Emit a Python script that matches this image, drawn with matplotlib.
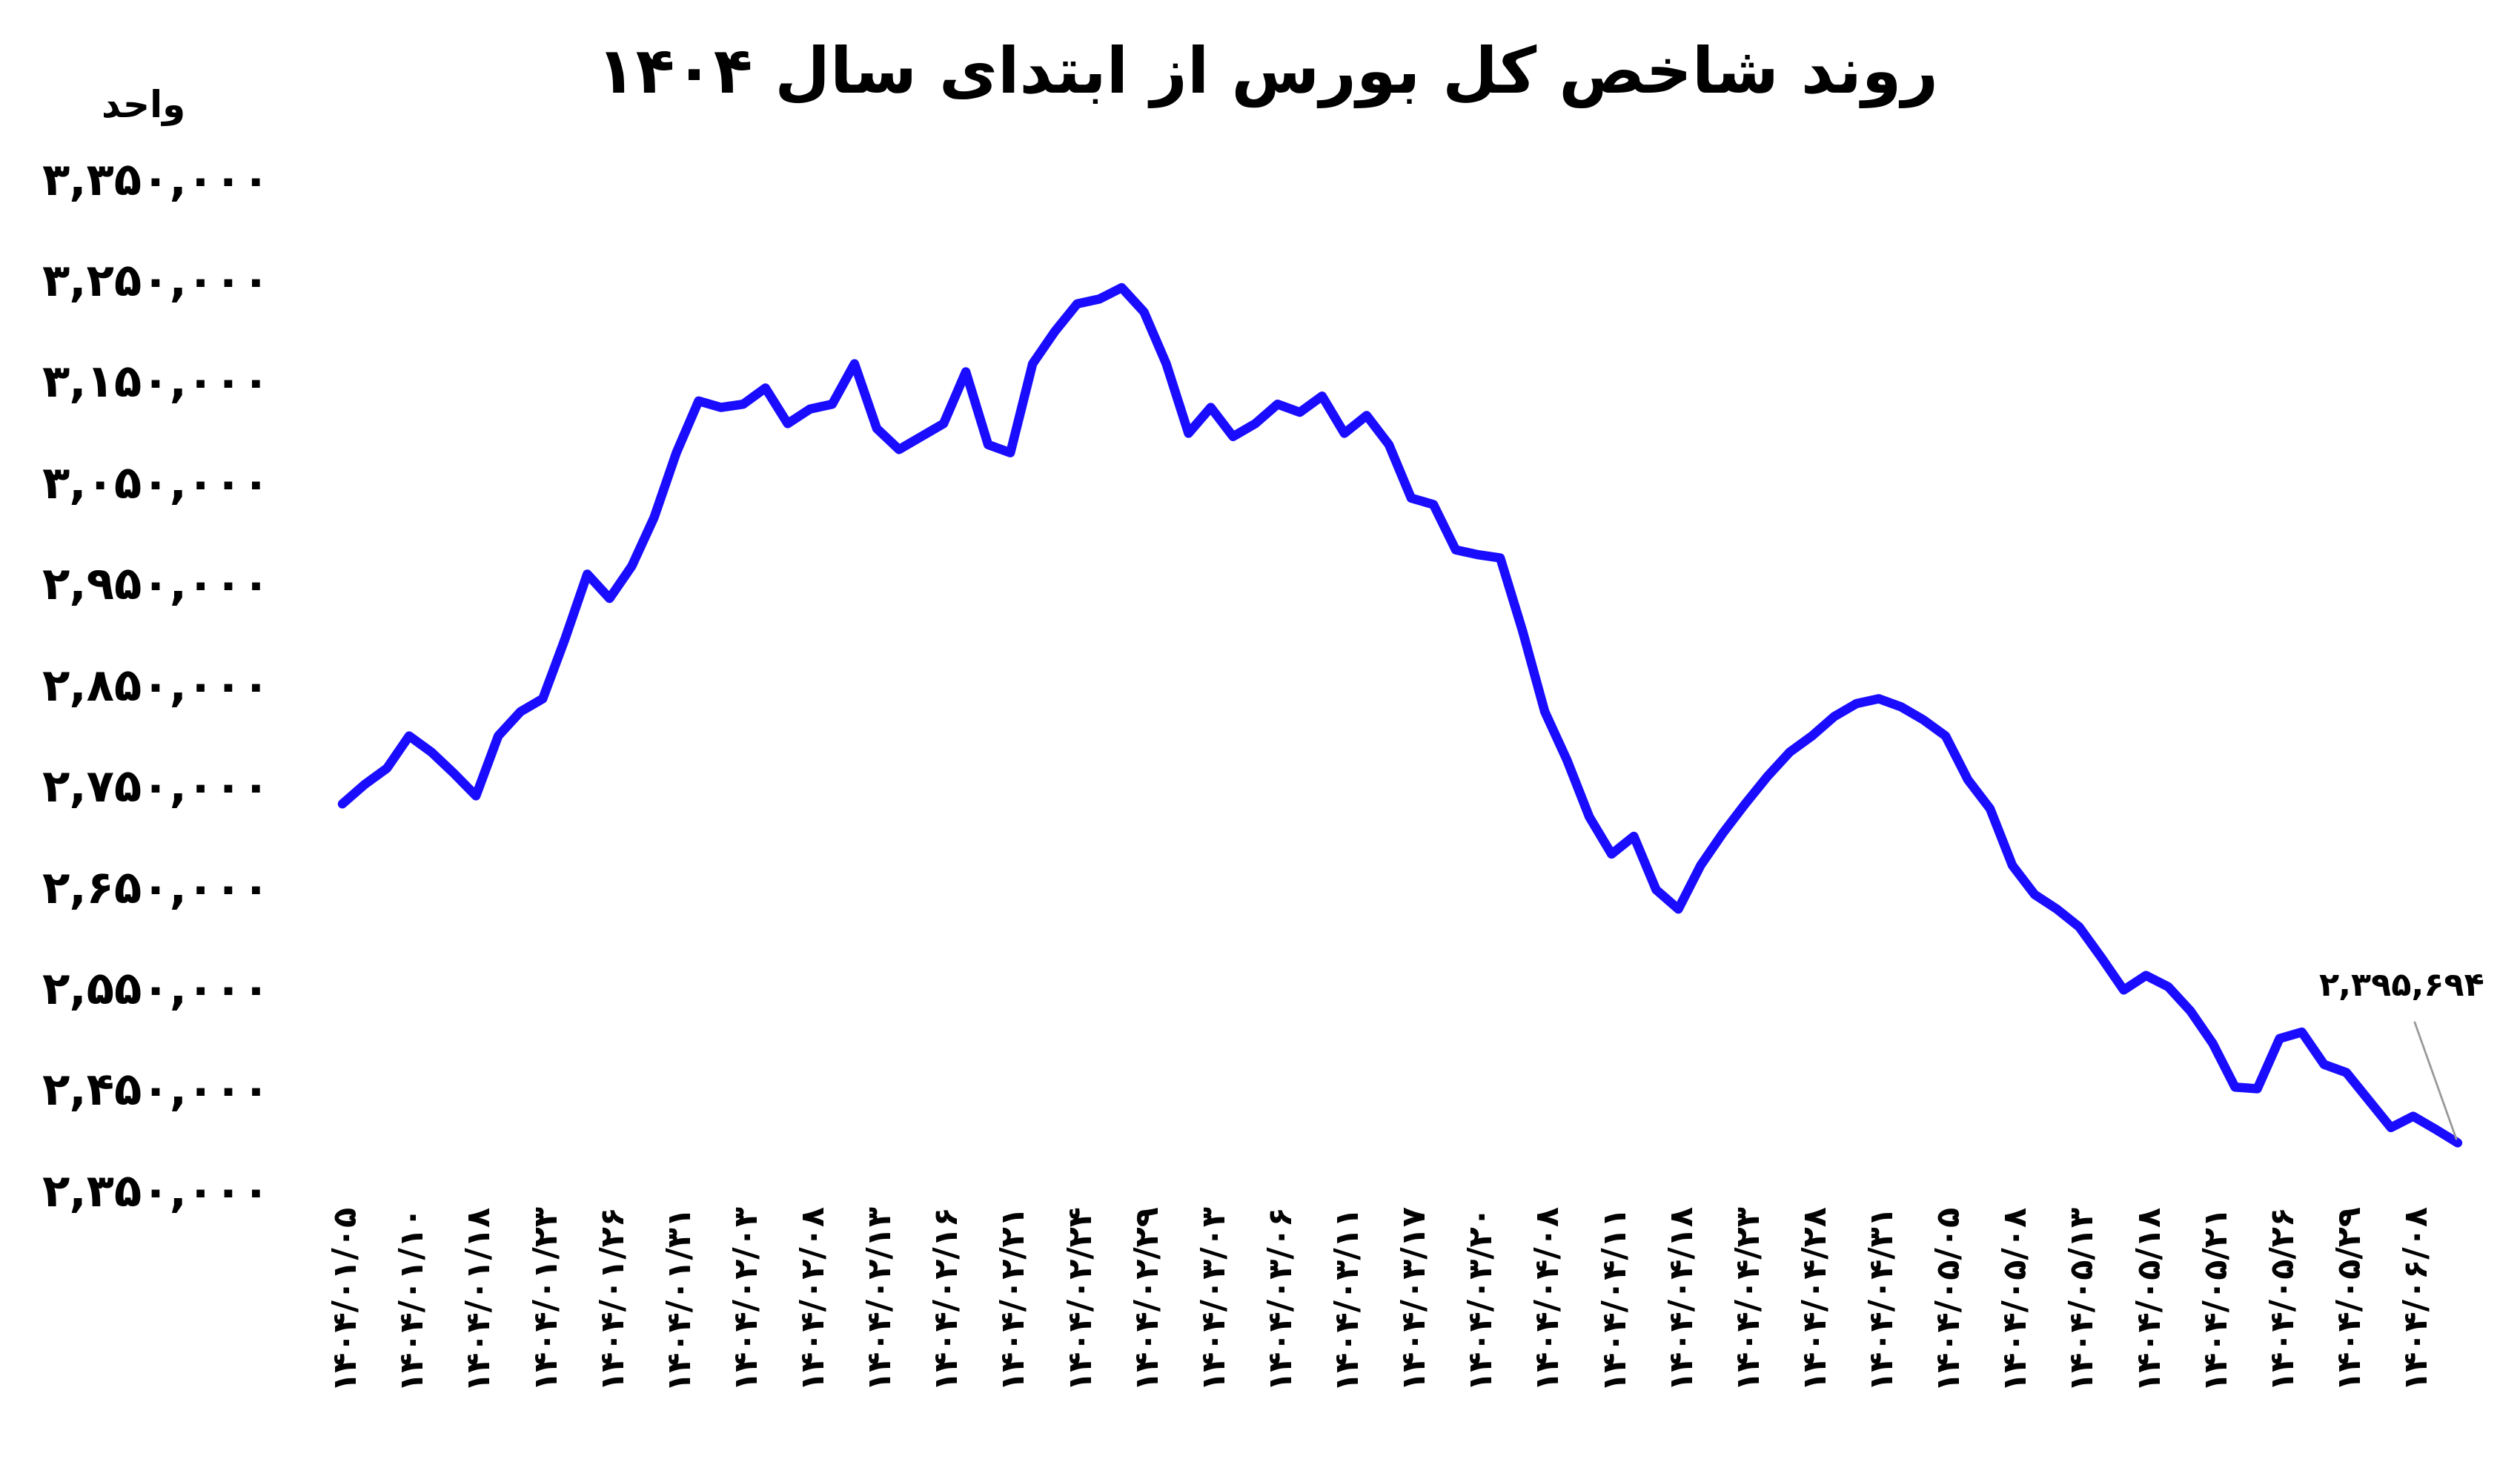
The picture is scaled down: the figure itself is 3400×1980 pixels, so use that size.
import matplotlib
matplotlib.use("Agg")
import matplotlib.pyplot as plt

values = [2730800, 2750000, 2766000, 2798000, 2782000, 2761200, 2738800, 2798000, 2822000, 2834800,
          2894000, 2958000, 2934000, 2966000, 3014000, 3078000, 3129200, 3122800, 3126000, 3142000,
          3106800, 3121200, 3126000, 3166000, 3102000, 3081200, 3094000, 3106800, 3158000, 3086000,
          3078000, 3166000, 3198000, 3225200, 3230000, 3241200, 3217200, 3166000, 3097200, 3122800,
          3094000, 3106800, 3126000, 3118000, 3134000, 3097200, 3114800, 3086000, 3033200, 3026800,
          2982000, 2977200, 2974000, 2902000, 2822000, 2774000, 2718000, 2681200, 2698800, 2646000,
          2626800, 2670000, 2702000, 2730800, 2758000, 2782000, 2798000, 2817200, 2830000, 2834800,
          2826800, 2814000, 2798000, 2754800, 2726000, 2670000, 2641200, 2626800, 2609200, 2578800,
          2546800, 2561200, 2550000, 2526000, 2494000, 2450800, 2449200, 2498800, 2505200, 2473200,
          2465200, 2438000, 2410800, 2422000, 2409200, 2395694]
date_labels = ["1404/01/05", "1404/01/10", "1404/01/18", "1404/01/23", "1404/01/26", "1404/01/31",
               "1404/02/03", "1404/02/08", "1404/02/13", "1404/02/16", "1404/02/21", "1404/02/24",
               "1404/02/29", "1404/03/03", "1404/03/06", "1404/03/11", "1404/03/17", "1404/03/20",
               "1404/04/08", "1404/04/11", "1404/04/18", "1404/04/23", "1404/04/28", "1404/04/31",
               "1404/05/05", "1404/05/08", "1404/05/13", "1404/05/18", "1404/05/21", "1404/05/26",
               "1404/05/29", "1404/06/08"]
y_ticks = [2350000, 2450000, 2550000, 2650000, 2750000, 2850000, 2950000, 3050000, 3150000, 3250000, 3350000]
title = "روند شاخص کل بورس از ابتدای سال ۱۴۰۴"
unit = "واحد"

FORMS = {  # isolated, final, initial, medial
    'ا': (0xFE8D, 0xFE8E, None, None), 'ب': (0xFE8F, 0xFE90, 0xFE91, 0xFE92),
    'ت': (0xFE95, 0xFE96, 0xFE97, 0xFE98), 'ح': (0xFEA1, 0xFEA2, 0xFEA3, 0xFEA4),
    'خ': (0xFEA5, 0xFEA6, 0xFEA7, 0xFEA8), 'د': (0xFEA9, 0xFEAA, None, None),
    'ر': (0xFEAD, 0xFEAE, None, None), 'ز': (0xFEAF, 0xFEB0, None, None),
    'س': (0xFEB1, 0xFEB2, 0xFEB3, 0xFEB4), 'ش': (0xFEB5, 0xFEB6, 0xFEB7, 0xFEB8),
    'ص': (0xFEB9, 0xFEBA, 0xFEBB, 0xFEBC), 'ل': (0xFEDD, 0xFEDE, 0xFEDF, 0xFEE0),
    'ن': (0xFEE5, 0xFEE6, 0xFEE7, 0xFEE8), 'و': (0xFEED, 0xFEEE, None, None),
    'ی': (0xFBFC, 0xFBFD, 0xFBFE, 0xFBFF), 'ک': (0xFB8E, 0xFB8F, 0xFB90, 0xFB91),
}

def shape(s):
    out = []
    for i, c in enumerate(s):
        if c not in FORMS:
            out.append(c); continue
        prev = s[i-1] if i > 0 else ''
        nxt = s[i+1] if i + 1 < len(s) else ''
        jp = prev in FORMS and FORMS[prev][2] is not None
        jn = nxt in FORMS and FORMS[c][2] is not None
        iso, fin, ini, med = FORMS[c]
        if jp and jn: out.append(chr(med))
        elif jp: out.append(chr(fin))
        elif jn: out.append(chr(ini))
        else: out.append(chr(iso))
    tokens, cur = [], ''
    for c in out:
        if c.isdigit():
            cur += c
        else:
            if cur: tokens.append(cur); cur = ''
            tokens.append(c)
    if cur: tokens.append(cur)
    return ''.join(reversed(tokens))

def fa(s):
    return ''.join(chr(0x06F0 + int(c)) if c.isdigit() else c for c in s)

plt.rcParams['font.family'] = ['DejaVu Sans']
fig = plt.figure(figsize=(34, 19.8), dpi=100)
ax = fig.add_axes([0.112, 0.19, 0.873, 0.689])
x = list(range(len(values)))
ax.plot(x, values, color='#1a0dff', lw=9, solid_joinstyle='round', solid_capstyle='round')
ax.set_ylim(2350000, 3350000)
ax.set_xlim(-2.7, 96.1)
ax.set_yticks(y_ticks)
ax.set_yticklabels([fa(f"{v:,}") for v in y_ticks], fontsize=44, fontweight='bold')
ax.set_xticks([3 * i for i in range(len(date_labels))])
ax.set_xticklabels([fa(d) for d in date_labels], rotation=90, fontsize=32, fontweight='bold')
ax.tick_params(length=0, pad=12)
for sp in ax.spines.values():
    sp.set_visible(False)

ax.annotate(fa(f"{values[-1]:,}"), xy=(x[-1], values[-1]), xytext=(92.5, 2550000),
            fontsize=32, fontweight='bold', ha='center', va='center',
            arrowprops=dict(arrowstyle='-', color='#999999', lw=2, shrinkA=18, shrinkB=4))

fig.text(0.503, 0.948, shape(title), fontsize=62, fontweight='bold', ha='center', va='center')
fig.text(0.057, 0.927, shape(unit), fontsize=36, fontweight='bold', ha='center', va='center')
fig.savefig("out.png", dpi=100, facecolor='white')
